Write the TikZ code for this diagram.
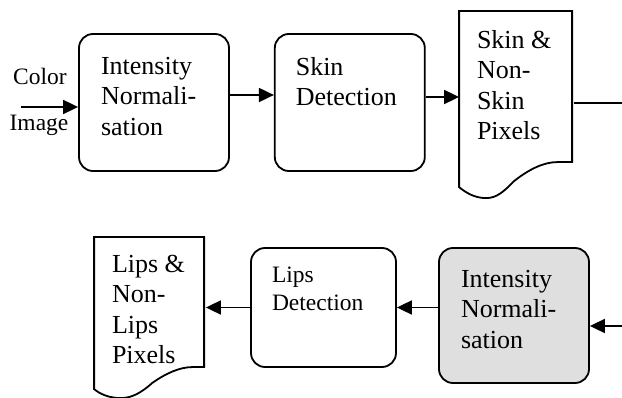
\documentclass[tikz,border=0pt]{standalone}
\usepackage{fontspec}
\setmainfont{Liberation Serif}
\usetikzlibrary{arrows.meta,positioning,calc}

\begin{document}
\begin{tikzpicture}[
  x=1pt,y=-1pt,
  line width=1.8pt,
  >={Triangle[length=15pt,width=14pt]},
  box/.style={draw,rounded corners=14pt,minimum width=150pt,minimum height=137pt,inner sep=0pt},
  shaded/.style={box,fill=gray!25,minimum height=135pt},
  smallbox/.style={box,minimum width=145pt,minimum height=119pt},
  docarea/.style={inner sep=0pt,minimum width=113pt,minimum height=151pt},
  txt/.style={anchor=north west,inner sep=0pt,align=left,font=\fontsize{26}{30.5}\selectfont},
  smalltxt/.style={txt,font=\fontsize{23.5}{28}\selectfont},
  line/.style={->}
]
\useasboundingbox (0,0) rectangle (622,398);

% ---- top row ----
\node[box] (norm1) at (154,102.5) {};
\node[box,right=44pt of norm1] (skindet) {};
\node[docarea] (skinpix) at (516.5,87.5) {};
\draw[shift={(skinpix.north west)}] (0,0) -- (113,0) -- (113,151) -- (98,151)
  .. controls (85,151) and (70,158) .. (55,170)
  .. controls (45,180) and (38,187) .. (27,187)
  .. controls (15,187) and (6,181) .. (0,176) -- cycle;

\node[txt] (norm1txt) at ([shift={(22,23)}]norm1.north west) {Intensity\\Normali-\\sation};
\node[txt] (skindettxt) at ([shift={(21,23)}]skindet.north west) {Skin\\Detection};
\node[txt] (skinpixtxt) at ([shift={(17,18)}]skinpix.north west) {Skin \&\\Non-\\Skin\\Pixels};

% ---- bottom row ----
\node[shaded] (norm2) at (514,315.5) {};
\node[smallbox] (lipsdet) at (323.5,307.5) {};
\node[docarea,minimum width=110pt,minimum height=130pt] (lipspix) at (150,303) {};
\draw[shift={(lipspix.north west)}] (0,0) -- (110,0) -- (110,130) -- (98,130)
  .. controls (86,130) and (72,136) .. (58,146)
  .. controls (48,155) and (38,161) .. (27,161)
  .. controls (15,161) and (6,157) .. (0,152) -- cycle;

\node[txt] (norm2txt) at ([shift={(22,22)}]norm2.north west) {Intensity\\Normali-\\sation};
\node[smalltxt] (lipsdettxt) at ([shift={(21,19)}]lipsdet.north west) {Lips\\Detection};
\node[txt] (lipspixtxt) at ([shift={(17,17)}]lipspix.north west) {Lips \&\\Non-\\Lips\\Pixels};

% ---- input label ----
\coordinate (colorin) at (21,107);
\node[smalltxt,anchor=base] (colorlbl) at (40,85) {Color};
\node[smalltxt,anchor=base] (imagelbl) at (39,131) {Image};

% ---- connectors ----
\coordinate (a1) at ([yshift=7.5pt]norm1.east);
\coordinate (a2) at ([yshift=5.5pt]skindet.east);
\coordinate (outtop) at (622,103);
\coordinate (inbot) at (622,326);
\draw[line] (colorin) -- (colorin -| norm1.west);
\draw[line] (a1) -- (a1 -| skindet.west);
\draw[line] (a2) -- (a2 -| skinpix.west);
\draw (skinpix.east |- outtop) -- (outtop);
\draw[line] (inbot) -- (inbot -| norm2.east);
\draw[line] (norm2.west |- lipsdet.east) -- (lipsdet.east);
\draw[line] (lipsdet.west) -- (lipsdet.west -| lipspix.east);

\end{tikzpicture}
\end{document}
